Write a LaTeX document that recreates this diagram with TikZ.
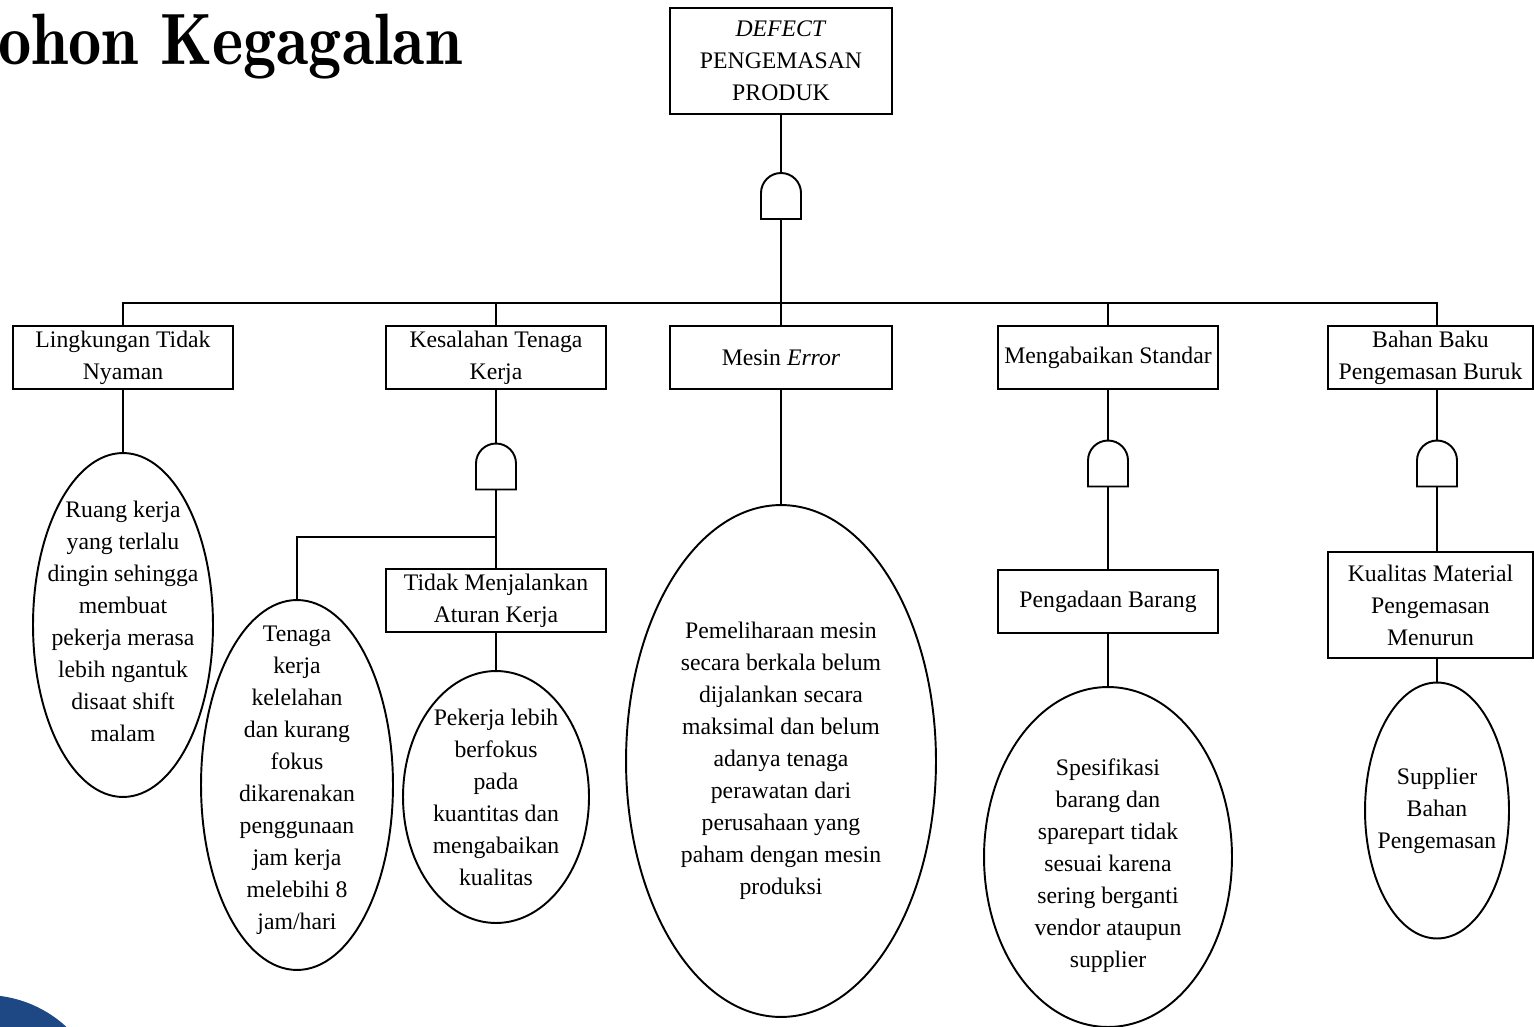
\documentclass[tikz,border=0pt]{standalone}
\usepackage{fontspec}
\newfontfamily\boxfont{Liberation Serif}
\newfontfamily\titlefont{lmromandemi10-regular.otf}
\usetikzlibrary{shapes.geometric}
\definecolor{logoblue}{RGB}{30,72,132}
\tikzset{
    event/.style = {
        draw, rectangle, align=center,
        outer sep=0,
        inner sep=0,
        minimum width=4.4cm,
        minimum height=1.26cm,
        font=\boxfont\fontsize{13.5}{18.2}\selectfont
    },
    basic/.style = {
        draw, ellipse,
        outer sep=0,
        inner sep=0
    },
    note/.style = {
        align=center,
        inner sep=0,
        font=\boxfont\fontsize{13.5}{18.2}\selectfont
    },
    gatebox/.style = {
        rectangle,
        outer sep=0,
        inner sep=0,
        minimum width=0.8cm,
        minimum height=0.92cm
    }
}
\newcommand{\andgate}[2]{%
  \node[gatebox] (#1) at (#2) {};
  \draw (#1.south west) -- ++(0cm,0.52cm)
    arc[start angle=180,end angle=0,radius=0.4cm] -- (#1.south east) -- cycle;}

\begin{document}
\begin{tikzpicture}[x=0.02cm,y=-0.02cm,line width=1.1pt]
\useasboundingbox (0,0) rectangle (1534,1027);

% 1. title and logo
\fill[logoblue] (-15,1115) circle (2.4cm);
\node[anchor=base east,inner sep=0,font=\titlefont\fontsize{36}{40}\selectfont] (title) at (463,65) {\scalebox{1.05}[1.15]{Pohon Kegagalan}};

% 2. top event
\node[event,minimum width=4.44cm,minimum height=2.12cm] (top) at (781,61) {\textit{DEFECT}\\ PENGEMASAN\\ PRODUK};
\andgate{g0}{781,196}
\coordinate (j0) at (781,303);
\coordinate (c5) at (1437,303);
\draw (top) -- (g0);
\draw (g0) -- (j0);

% 3. first level events
\node[event] (e1) at (123,357.5) {Lingkungan Tidak\\ Nyaman};
\node[event] (e2) at (496,357.5) {Kesalahan Tenaga\\ Kerja};
\node[event,minimum width=4.44cm] (e3) at (781,357.5) {Mesin \textit{Error}};
\node[event] (e4) at (1108,357.5) {Mengabaikan Standar};
\node[event,minimum width=4.1cm] (e5) at (1430.5,357.5) {Bahan Baku\\ Pengemasan Buruk};

\draw (e1) |- (j0) -| (c5) -- (c5 |- e5.north);
\draw (j0) -- (e3);
\draw (j0 -| e2) -- (e2);
\draw (j0 -| e4) -- (e4);

% 4. branch: lingkungan
\node[basic,minimum width=3.6cm,minimum height=6.88cm] (b1) at (123,625) {};
\node[note] (b1t) at (123,621) {Ruang kerja\\ yang terlalu\\ dingin sehingga\\ membuat\\ pekerja merasa\\ lebih ngantuk\\ disaat shift\\ malam};
\draw (e1) -- (b1);

% 5. branch: tenaga kerja
\andgate{g2}{496,466.5}
\coordinate (j2) at (496,537);
\node[basic,minimum width=3.84cm,minimum height=7.4cm] (b2) at (297,785) {};
\node[note] (b2t) at (297,780) {Tenaga\\ kerja\\ kelelahan\\ dan kurang\\ fokus\\ dikarenakan\\ penggunaan\\ jam kerja\\ melebihi 8\\ jam/hari};
\node[event] (t2) at (496,600.5) {Tidak Menjalankan\\ Aturan Kerja};
\node[basic,minimum width=3.72cm,minimum height=5.04cm] (b3) at (496,797) {};
\node[note] (b3t) at (496,797) {Pekerja lebih\\ berfokus\\ pada\\ kuantitas dan\\ mengabaikan\\ kualitas};
\draw (e2) -- (g2);
\draw (g2) -- (j2);
\draw (j2) -| (b2);
\draw (j2) -- (t2);
\draw (t2) -- (b3);

% 6. branch: mesin
\node[basic,minimum width=6.2cm,minimum height=10.24cm] (b4) at (781,761) {};
\node[note] (b4t) at (781,761) {Pemeliharaan mesin\\ secara berkala belum\\ dijalankan secara\\ maksimal dan belum\\ adanya tenaga\\ perawatan dari\\ perusahaan yang\\ paham dengan mesin\\ produksi};
\draw (e3) -- (b4);

% 7. branch: standar
\andgate{g4}{1108,463.5}
\node[event] (p4) at (1108,601.5) {Pengadaan Barang};
\node[basic,minimum width=4.96cm,minimum height=6.8cm] (b5) at (1108,857) {};
\node[note] (b5t) at (1108,866) {Spesifikasi\\ barang dan\\ sparepart tidak\\ sesuai karena\\ sering berganti\\ vendor ataupun\\ supplier};
\draw (e4) -- (g4);
\draw (g4) -- (p4);
\draw (p4) -- (b5);

% 8. branch: bahan baku
\andgate{g5}{1437,463.5}
\node[event,minimum width=4.1cm,minimum height=2.12cm] (k5) at (1430.5,605) {Kualitas Material\\ Pengemasan\\ Menurun};
\node[basic,minimum width=2.88cm,minimum height=5.12cm] (b6) at (1437,810.5) {};
\node[note] (b6t) at (1437,811) {Supplier\\ Bahan\\ Pengemasan};
\draw (g5.north) -- (g5.north |- e5.south);
\draw (g5.south) -- (g5.south |- k5.north);
\draw (g5 |- k5.south) -- (b6);

\end{tikzpicture}
\end{document}
